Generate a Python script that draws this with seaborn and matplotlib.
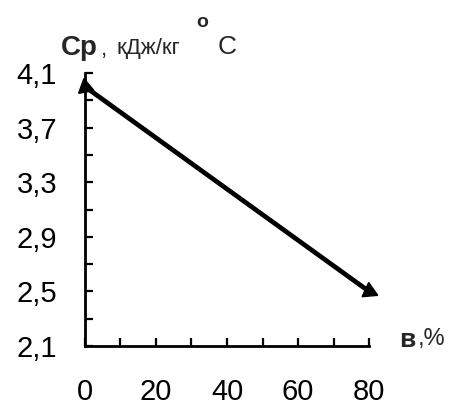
import matplotlib
matplotlib.use("Agg")
import matplotlib.pyplot as plt
import seaborn as sns
import pandas as pd
from matplotlib.ticker import MultipleLocator, FixedLocator

# Heat capacity vs. moisture content
moisture = [0, 80]
heat_capacity = [4.0, 2.5]
x_ticks = [0, 20, 40, 60, 80]
x_tick_labels = ["0", "20", "40", "60", "80"]
y_ticks = [2.1, 2.5, 2.9, 3.3, 3.7, 4.1]
y_tick_labels = ["2,1", "2,5", "2,9", "3,3", "3,7", "4,1"]

sns.set_theme(style="white")
plt.rcParams["font.family"] = ["Liberation Sans", "DejaVu Sans"]

df = pd.DataFrame({"moisture": moisture, "cp": heat_capacity})

fig = plt.figure(figsize=(4.54, 4.07), dpi=100)
ax = fig.add_axes([0.1872, 0.1499, 0.6256, 0.6707])

sns.lineplot(data=df, x="moisture", y="cp", ax=ax, color="black", linewidth=3.4)
# arrowheads at both ends of the line
ax.plot(df["moisture"].iloc[:1], df["cp"].iloc[:1], marker=(3, 0, 10), markersize=13,
        color="black", linestyle="none", clip_on=False)
ax.plot(df["moisture"].iloc[1:], df["cp"].iloc[1:], marker=(3, 0, -115), markersize=13,
        color="black", linestyle="none", clip_on=False)

ax.set_xlim(0, 80)
ax.set_ylim(2.1, 4.1)

for side in ["top", "right"]:
    ax.spines[side].set_visible(False)
for side in ["left", "bottom"]:
    ax.spines[side].set_color("black")
    ax.spines[side].set_linewidth(2.0)

ax.xaxis.set_major_locator(FixedLocator(x_ticks))
ax.set_xticklabels(x_tick_labels)
ax.xaxis.set_minor_locator(MultipleLocator(10))
ax.yaxis.set_major_locator(FixedLocator(y_ticks))
ax.set_yticklabels(y_tick_labels)
ax.yaxis.set_minor_locator(FixedLocator([2.3, 2.7, 3.1, 3.5, 3.9]))

ax.tick_params(axis="both", which="both", direction="in", length=6, width=1.6,
               color="black", labelsize=21, labelcolor="black")
ax.tick_params(axis="x", which="both", bottom=True, pad=23)
ax.tick_params(axis="y", which="both", left=True, pad=20)

ax.set_xlabel("")
ax.set_ylabel("")

# axis titles
fig.text(0.135, 0.866, "Cp", fontsize=20, fontweight="bold", ha="left", va="baseline")
fig.text(0.222, 0.866, ",", fontsize=16, ha="left", va="baseline")
fig.text(0.256, 0.868, "кДж/кг", fontsize=16, ha="left", va="baseline")
fig.text(0.432, 0.934, "o", fontsize=14, fontweight="bold", ha="left", va="baseline")
fig.text(0.480, 0.868, "C", fontsize=19, ha="left", va="baseline")
fig.text(0.880, 0.148, "в", fontsize=19, fontweight="bold", ha="left", va="baseline")
fig.text(0.921, 0.152, ",%", fontsize=17, ha="left", va="baseline")

fig.savefig("out.png", dpi=100, facecolor="white")
